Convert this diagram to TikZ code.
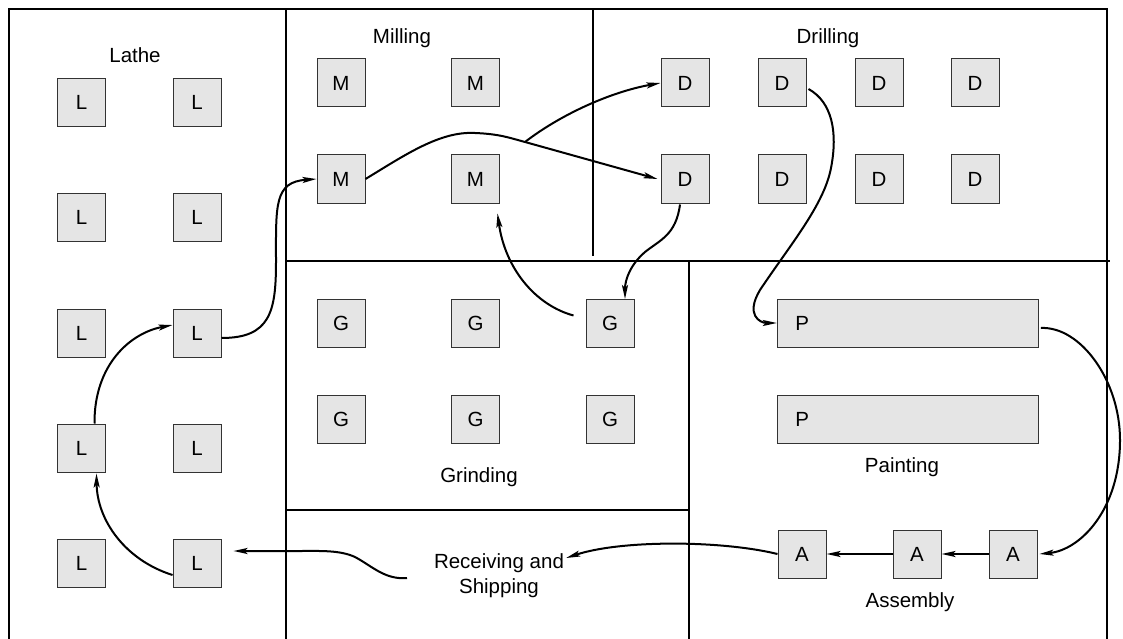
\documentclass[tikz,border=0pt]{standalone}
\usepackage{fontspec}
\setmainfont{Liberation Sans}
\usetikzlibrary{arrows.meta,calc}
\begin{document}
\begin{tikzpicture}[x=1pt,y=-1pt,
  every node/.style={font=\fontsize{20.5}{24}\selectfont},
  mach/.style={draw=black!80,fill=black!10,line width=1pt,minimum width=48pt,minimum height=48pt,inner sep=0pt},
  wall/.style={line width=2.6pt,black},
  flow/.style={line width=2pt,-{Stealth[length=14pt,width=6pt,inset=3pt]}},
  plain/.style={line width=2pt},
  area/.style={inner sep=0pt,anchor=base}]
\useasboundingbox (0,0) rectangle (1123,639);
% walls
\draw[wall] (9,639) -- (9,9) -- (1107,9) -- (1107,639);
\draw[wall] (286,9) -- (286,639);
\draw[wall] (593,9) -- (593,256);
\draw[wall] (286,261) -- (1110,261);
\draw[wall] (689,261) -- (689,639);
\draw[wall] (286,510) -- (689,510);
% labels
\node[area] (lathe) at (135,62.7) {Lathe};
\node[area] (milling) at (402,43.3) {Milling};
\node[area] (drilling) at (828,43.3) {Drilling};
\node[area] (grinding) at (479,482.7) {Grinding};
\node[area] (painting) at (902,472.7) {Painting};
\node[area] (assembly) at (910,607.3) {Assembly};
\node[area] (rs1) at (499,568.3) {Receiving and};
\node[area] (rs2) at (499,593.3) {Shipping};
% lathes
\foreach \r/\y in {1/102.5,2/217.5,3/333,4/448,5/563}{
  \node[mach] (L\r1) at (81.5,\y) {L};
  \node[mach] (L\r2) at (197,\y) {L};
}
% milling
\foreach \r/\y in {1/83,2/179}{
  \node[mach] (M\r1) at (341,\y) {M};
  \node[mach] (M\r2) at (475.5,\y) {M};
}
% drilling
\foreach \r/\y in {1/83,2/179}{
  \foreach \c/\x in {1/685,2/782,3/879,4/975}{
    \node[mach] (D\r\c) at (\x,\y) {D};
  }
}
% grinding
\foreach \r/\y in {1/323.5,2/419}{
  \foreach \c/\x in {1/341,2/475.5,3/610}{
    \node[mach] (G\r\c) at (\x,\y) {G};
  }
}
% painting
\node[mach,minimum width=0pt,text width=225pt,inner xsep=18pt,align=left] (P1) at (907.8,323) {P};
\node[mach,minimum width=0pt,text width=225pt,inner xsep=18pt,align=left] (P2) at (907.8,419) {P};
% assembly
\node[mach] (A1) at (802,554) {A};
\node[mach] (A2) at (917,554) {A};
\node[mach] (A3) at (1013,554) {A};
% flow
\draw[flow] ($(L52.west)+(0,12)$) .. controls (125,560) and (97,520) .. ($(L41.south)+(15,1)$);
\draw[flow] ($(L41.north)+(13,0)$) .. controls (94,365) and (130,333) .. ($(L32.west)+(0,-8)$);
\draw[flow] ($(L32.east)+(0,5)$) .. controls (270,338) and (276,312) .. (276,262)
   .. controls (276,205) and (274,182) .. (M21.west);
\coordinate (br) at (525,142);
\draw[flow] (M21.east) .. controls (405,155) and (440,131) .. (475,133)
   .. controls (500,134) and (510,138) .. (br) -- ($(D21.west)+(-3,0)$);
\draw[flow] (br) .. controls (560,115) and (610,92) .. (D11.west);
\draw[flow] ($(D12.east)+(2,6)$) .. controls (832,102) and (838,132) .. (831,168)
   .. controls (824,205) and (790,245) .. (760,290)
   .. controls (745,315) and (760,323) .. (P1.west);
\draw[flow] ($(D21.south)+(-5,1)$) .. controls (676,235) and (660,240) .. (645,252)
   .. controls (630,265) and (625,280) .. ($(G13.north)+(15,0)$);
\draw[flow] ($(G13.west)+(-12,-8)$) .. controls (535,305) and (505,268) .. ($(M22.south)+(22,10)$);
\draw[flow] ($(P1.east)+(2,5)$) .. controls (1080,326) and (1120,380) .. (1120,440)
   .. controls (1120,510) and (1080,550) .. ($(A3.east)+(2,0)$);
\draw[flow] (A3.west) -- (A2.east);
\draw[flow] (A2.west) -- (A1.east);
\draw[flow] (A1.west) .. controls (720,540) and (620,540) .. ($(rs1.east)+(2,-5)$);
\coordinate (rsw) at (407,578);
\draw[flow] (rsw) .. controls (385,580) and (372,566) .. (355,557)
   .. controls (340,550) and (320,551) .. (300,551) -- ($(L52.east)+(12,-12)$);
\end{tikzpicture}
\end{document}
